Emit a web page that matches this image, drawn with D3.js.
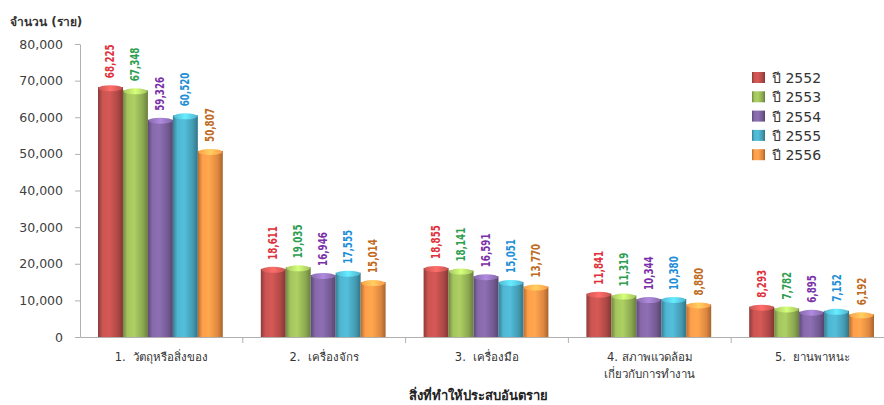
<!DOCTYPE html>
<html>
<head>
<meta charset="utf-8">
<script src="https://cdn.jsdelivr.net/npm/d3@7"></script>
<style>
  html, body { margin: 0; padding: 0; background: #fff; }
  svg { display: block; }
</style>
</head>
<body>
<svg id="chart" width="884" height="405"></svg>
<script>
// Injury counts by source of hazard, per Thai year
const categories = [
  ["1.  วัตถุหรือสิ่งของ"],
  ["2.  เครื่องจักร"],
  ["3.  เครื่องมือ"],
  ["4. สภาพแวดล้อม", "เกี่ยวกับการทำงาน"],
  ["5.  ยานพาหนะ"]
];
const seriesNames = ["ปี 2552", "ปี 2553", "ปี 2554", "ปี 2555", "ปี 2556"];
const y2552 = [68225, 18611, 18855, 11841, 8293];
const y2553 = [67348, 19035, 18141, 11319, 7782];
const y2554 = [59326, 16946, 16591, 10344, 6895];
const y2555 = [60520, 17555, 15051, 10380, 7152];
const y2556 = [50807, 15014, 13770, 8880, 6192];
const yTicks = [0, 10000, 20000, 30000, 40000, 50000, 60000, 70000, 80000];

const seriesValues = [y2552, y2553, y2554, y2555, y2556];
const barColors = ["#C0504D", "#9BBB59", "#8064A2", "#4BACC6", "#F79646"];
const labelColors = ["#E0303A", "#2E9E50", "#7A30A8", "#1E8FD6", "#C06A22"];

const svg = d3.select("#chart");
const plotLeft = 80, plotRight = 894, plotTop = 44, plotBottom = 337;

const x0 = d3.scaleBand().domain(d3.range(categories.length)).range([plotLeft, plotRight]).paddingInner(0).paddingOuter(0);
const x1 = d3.scaleBand().domain(d3.range(seriesNames.length)).range([18, x0.bandwidth() - 20]).padding(0);
const y = d3.scaleLinear().domain([0, 80000]).range([plotBottom, plotTop]);

// gradients for cylindrical bars
const defs = svg.append("defs");
barColors.forEach((c, i) => {
  const base = d3.color(c);
  const g = defs.append("linearGradient").attr("id", "bar" + i).attr("x1", "0").attr("x2", "1").attr("y1", "0").attr("y2", "0");
  g.append("stop").attr("offset", "0%").attr("stop-color", base.darker(0.9));
  g.append("stop").attr("offset", "18%").attr("stop-color", base.brighter(0.15));
  g.append("stop").attr("offset", "45%").attr("stop-color", base.brighter(0.3));
  g.append("stop").attr("offset", "80%").attr("stop-color", base.darker(0.3));
  g.append("stop").attr("offset", "100%").attr("stop-color", base.darker(1.1));
  const t = defs.append("linearGradient").attr("id", "cap" + i).attr("x1", "0").attr("x2", "1").attr("y1", "0").attr("y2", "0");
  t.append("stop").attr("offset", "0%").attr("stop-color", base.brighter(0.2));
  t.append("stop").attr("offset", "50%").attr("stop-color", base.brighter(0.9));
  t.append("stop").attr("offset", "100%").attr("stop-color", base.brighter(0.1));
});

// y axis
const yAxis = d3.axisLeft(y).tickValues(yTicks).tickSize(5).tickSizeOuter(0).tickFormat(d3.format(","));
const gy = svg.append("g").attr("transform", `translate(${plotLeft},0)`).call(yAxis);
gy.select(".domain").attr("stroke", "#b0b0b0");
gy.selectAll(".tick line").attr("stroke", "#b0b0b0");
gy.selectAll(".tick text").attr("x", -17).attr("fill", "#404040")
  .style("font-family", "'DejaVu Sans', sans-serif").style("font-size", "12.5px");

// x axis baseline and category separators
const xAxis = d3.axisBottom(x0).tickValues([]).tickSizeOuter(0);
const gx = svg.append("g").attr("transform", `translate(0,${plotBottom})`).call(xAxis);
gx.select(".domain").attr("stroke", "#b0b0b0");
svg.append("g").selectAll("line").data(d3.range(1, categories.length)).join("line")
  .attr("x1", d => x0(d)).attr("x2", d => x0(d))
  .attr("y1", plotBottom).attr("y2", plotBottom + 6)
  .attr("stroke", "#b0b0b0");

// category labels
const catG = svg.append("g");
categories.forEach((lines, i) => {
  const t = catG.append("text")
    .attr("x", x0(i) + x0.bandwidth() / 2)
    .attr("y", 361)
    .attr("text-anchor", "middle")
    .attr("fill", "#333")
    .style("white-space", "pre")
    .style("font-family", "'DejaVu Sans', 'Noto Sans', sans-serif")
    .style("font-size", "11.5px");
  lines.forEach((l, k) => {
    t.append("tspan").attr("x", x0(i) + x0.bandwidth() / 2).attr("dy", k === 0 ? 0 : 17).text(l);
  });
});

// bars
seriesValues.forEach((vals, s) => {
  const g = svg.append("g");
  vals.forEach((v, i) => {
    const bx = x0(i) + x1(s);
    const bw = x1.bandwidth();
    g.append("rect")
      .attr("x", bx).attr("y", y(v))
      .attr("width", bw).attr("height", plotBottom - y(v))
      .attr("fill", `url(#bar${s})`);
    g.append("ellipse")
      .attr("cx", bx + bw / 2).attr("cy", y(v) + 1)
      .attr("rx", bw / 2 - 0.5).attr("ry", 3)
      .attr("fill", `url(#cap${s})`);
    g.append("text")
      .attr("transform", `translate(${bx + bw / 2 + 4},${y(v) - 9}) rotate(-90) scale(0.78,1)`)
      .attr("fill", labelColors[s])
      .style("font-family", "'DejaVu Sans Condensed', 'DejaVu Sans', sans-serif")
      .style("font-size", "12.5px")
      .style("font-weight", "bold")
      .text(d3.format(",")(v));
  });
});

// legend
const leg = svg.append("g").attr("transform", "translate(752,72)");
seriesNames.forEach((n, i) => {
  const row = leg.append("g").attr("transform", `translate(0,${i * 19.3})`);
  row.append("rect").attr("x", 0).attr("y", 0).attr("width", 13).attr("height", 11)
    .attr("fill", `url(#bar${i})`);
  row.append("text").attr("x", 20).attr("y", 11)
    .attr("fill", "#333")
    .style("font-family", "'DejaVu Sans', sans-serif")
    .style("font-size", "14px")
    .text(n);
});

// axis titles
svg.append("text").attr("x", 10).attr("y", 26)
  .attr("fill", "#333")
  .style("white-space", "pre")
  .style("font-family", "'DejaVu Sans', 'Noto Sans', sans-serif")
  .style("font-size", "12px").style("font-weight", "bold")
  .text("จำนวน (ราย)");
svg.append("text").attr("x", 478).attr("y", 400)
  .attr("text-anchor", "middle")
  .attr("fill", "#222")
  .style("font-family", "'DejaVu Sans', 'Noto Sans', sans-serif")
  .style("font-size", "13px").style("font-weight", "bold")
  .text("สิ่งที่ทำให้ประสบอันตราย");
</script>
</body>
</html>
